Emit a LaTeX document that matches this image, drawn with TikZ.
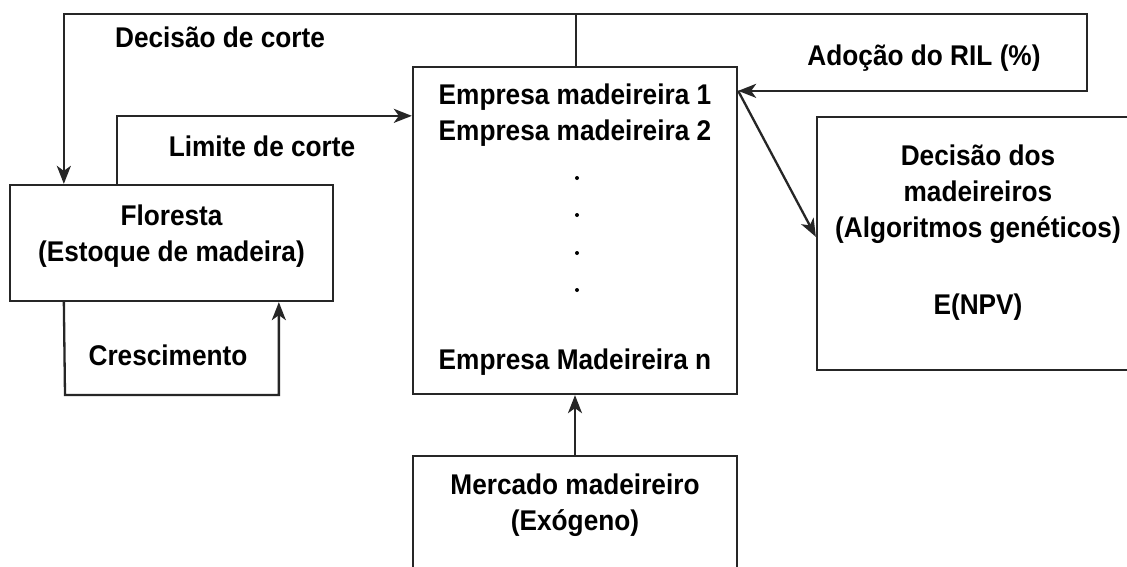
\documentclass[tikz,border=0pt]{standalone}
\usepackage{fontspec}
\setmainfont{Liberation Sans}[FakeStretch=0.92]
\usetikzlibrary{arrows.meta,calc}
\tikzset{
  box/.style={draw=black!85, line width=2.3pt, fill=white, inner sep=0pt},
  txt/.style={font=\fontsize{28.5}{36}\selectfont\bfseries, align=center, inner sep=0pt, text=black},
  dotn/.style={circle, fill=black, inner sep=0pt, minimum size=4pt},
  conn/.style={draw=black!85, line width=2.3pt},
  arr/.style={conn, -{Stealth[length=18pt,width=14pt,inset=5pt]}},
}
\begin{document}
\begin{tikzpicture}[x=1pt,y=-1pt]
\useasboundingbox (0,0) rectangle (1127,566);
\clip (0,0) rectangle (1127,566);
\fill[white] (0,0) rectangle (1127,566);
% boxes
\node[box, minimum width=323pt, minimum height=116pt] (flo) at (171.5,243) {};
\node[box, minimum width=324pt, minimum height=327pt] (emp) at (575,230.5) {};
\node[box, minimum width=324pt, minimum height=160pt] (mer) at (575,536) {};
\node[box, minimum width=322pt, minimum height=253pt] (dec) at (978,243.5) {};
% texts in boxes
\node[txt] (flot) at (171.5,236) {Floresta\\(Estoque de madeira)};
\node[txt] (emp1) at (575,115) {Empresa madeireira 1\\Empresa madeireira 2};
\node[dotn] (d1) at (577,178) {};
\node[dotn] (d2) at (577,215) {};
\node[dotn] (d3) at (577,253) {};
\node[dotn] (d4) at (577,290) {};
\node[txt] (empn) at (575,362) {Empresa Madeireira n};
\node[txt] (mert) at (575,505) {Mercado madeireiro\\(Exógeno)};
\node[txt] (dect) at (978,194) {Decisão dos\\madeireiros\\(Algoritmos genéticos)};
\node[txt] (npv) at (978,307) {E(NPV)};
% connector labels
\node[txt] (lcorte) at (220,37) {Decisão de corte};
\node[txt] (llim) at (262,146) {Limite de corte};
\node[txt] (lril) at (924,58) {Adoção do RIL (\%)};
\node[txt] (lcre) at (168,355) {Crescimento};
% helper coordinates
\coordinate (top) at ($(emp.north)+(1,0)$);
\coordinate (topline) at ($(top)+(0,-52)$);
\coordinate (ril) at (1087,15);
\coordinate (empE) at ($(emp.north east)+(0,25)$);
\coordinate (floA) at ($(flo.north west)+(55,0)$);
\coordinate (floB) at ($(flo.north west)+(108,0)$);
\coordinate (empW) at ($(emp.north west)+(0,50)$);
\coordinate (floC) at ($(flo.south west)+(55,0)$);
\coordinate (floD) at ($(flo.south west)+(270,0)$);
\coordinate (cre) at (65,395);
\coordinate (decW) at ($(dec.north west)+(0,121)$);
% connectors
\draw[arr] (top) -- (topline) -| (floA);
\draw[arr] (topline) -| (ril) |- (empE);
\draw[arr] (floB) |- (empW);
\draw[arr] (floC) -- (cre) -| (floD);
\draw[arr] (empE) -- (decW);
\draw[arr] (mer.north) -- (emp.south);
\end{tikzpicture}
\end{document}
